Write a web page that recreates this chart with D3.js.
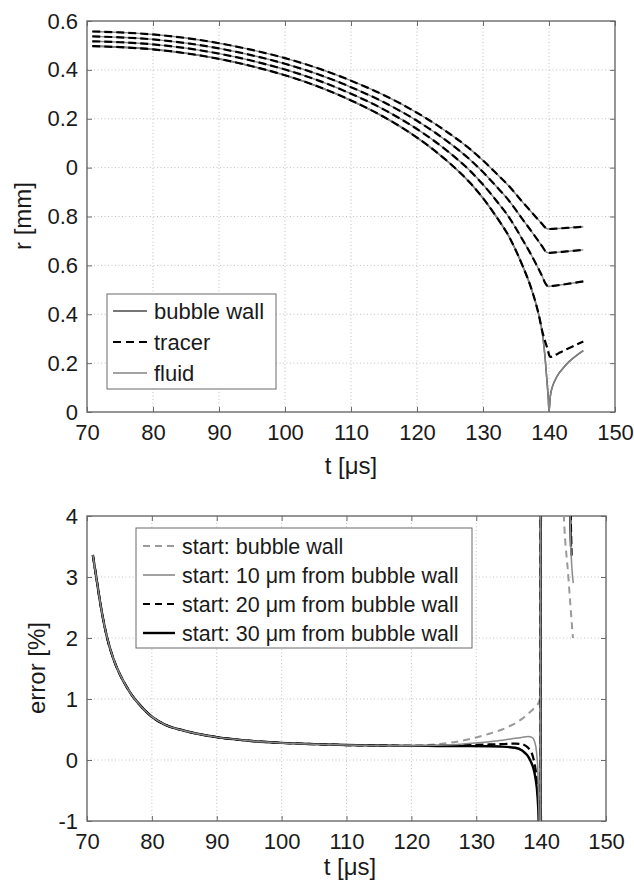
<!DOCTYPE html>
<html>
<head>
<meta charset="utf-8">
<script src="https://cdn.jsdelivr.net/npm/d3@7"></script>
<style>
  body { margin: 0; background: #fff; }
  svg { display: block; }
  text { font-family: "Liberation Sans", Arial, Helvetica, sans-serif; fill: #1a1a1a; }
</style>
</head>
<body>
<script>
// ---------------- DATA ----------------
const xTicks = [70, 80, 90, 100, 110, 120, 130, 140, 150];
const xTickLabels = ["70", "80", "90", "100", "110", "120", "130", "140", "150"];

const rTicks = [0, 0.2, 0.4, 0.6, 0.8, 1.0, 1.2, 1.4, 1.6];
const rTickLabels = ["0", "0.2", "0.4", "0.6", "0.8", "0", "0.2", "0.4", "0.6"];

const errTicks = [-1, 0, 1, 2, 3, 4];
const errTickLabels = ["-1", "0", "1", "2", "3", "4"];

// top panel: radius vs time
const tTop = [70.8, 75, 80, 85, 90, 95, 100, 105, 110, 115, 120, 125, 128, 130, 132, 134, 135, 136, 137, 138,
  138.5, 139, 139.4, 139.7, 139.9, 140, 140.2, 140.6, 141, 141.5, 142, 143, 144, 145.2];
const bubbleWall = [1.497, 1.493, 1.484, 1.468, 1.445, 1.415, 1.378, 1.332, 1.275, 1.207, 1.123, 1.017, 0.939, 0.875,
  0.800, 0.715, 0.660, 0.598, 0.530, 0.445, 0.392, 0.322, 0.225, 0.125, 0.050, 0, 0.065, 0.110, 0.135, 0.158, 0.175,
  0.205, 0.228, 0.251];
const tracerAtWall = [1.497, 1.493, 1.484, 1.468, 1.445, 1.415, 1.378, 1.332, 1.275, 1.207, 1.123, 1.017, 0.939, 0.875,
  0.800, 0.715, 0.660, 0.598, 0.530, 0.445, 0.392, 0.328, 0.290, 0.265, 0.245, 0.235, 0.225, 0.229, 0.234, 0.241,
  0.248, 0.261, 0.274, 0.289];
const fluid10 = [1.517, 1.5131, 1.5044, 1.4888, 1.4664, 1.4373, 1.4015, 1.3571, 1.3024, 1.2374, 1.1579, 1.0592, 0.9879,
  0.9307, 0.8655, 0.7947, 0.7511, 0.7048, 0.6582, 0.6077, 0.5814, 0.5536, 0.5286, 0.5171, 0.5148, 0.5146, 0.5150,
  0.5161, 0.5175, 0.5193, 0.5211, 0.5251, 0.5291, 0.5342];
const fluid20 = [1.537, 1.5332, 1.5247, 1.5095, 1.4878, 1.4596, 1.4249, 1.3820, 1.3293, 1.2671, 1.1917, 1.0992, 1.0336,
  0.9817, 0.9237, 0.8626, 0.8261, 0.7884, 0.7519, 0.7142, 0.6955, 0.6765, 0.6601, 0.6528, 0.6511, 0.6510, 0.6512,
  0.6523, 0.6532, 0.6543, 0.6554, 0.6579, 0.6604, 0.6636];
const fluid30 = [1.557, 1.5533, 1.5450, 1.5303, 1.5091, 1.4817, 1.4481, 1.4066, 1.3558, 1.2963, 1.2245, 1.1375, 1.0766,
  1.0291, 0.9767, 0.9226, 0.8910, 0.8589, 0.8285, 0.7979, 0.7830, 0.7681, 0.7555, 0.7499, 0.7489, 0.7488, 0.7489,
  0.7496, 0.7503, 0.7511, 0.7520, 0.7539, 0.7558, 0.7583];
const tracer10 = fluid10;   // tracers coincide with the fluid paths
const tracer20 = fluid20;
const tracer30 = fluid30;

const topLegendNames = ["bubble wall", "tracer", "fluid"];

// bottom panel: error vs time (shared start, separate tails)
const errHeadT = [70.9, 71.5, 72, 73, 74, 75, 76, 77, 78, 80, 82, 85, 88, 90, 95, 100, 105, 110, 115, 120];
const errHead = [3.36, 2.95, 2.6, 2.05, 1.68, 1.42, 1.22, 1.05, 0.92, 0.71, 0.58, 0.48, 0.41, 0.375, 0.315, 0.28,
  0.26, 0.245, 0.237, 0.232];

const errWallT = [124, 127, 130, 132, 134, 135, 136, 137, 138, 139, 139.7, 139.9, 140, 143.4, 144.2, 144.9];
const errWall = [0.26, 0.30, 0.37, 0.43, 0.50, 0.55, 0.60, 0.67, 0.76, 0.86, 0.96, 1.1, 60, 4.3, 3.0, 2.0];

const err10T = [124, 128, 130, 132, 134, 136, 137, 138, 138.6, 139, 139.3, 139.5, 139.65, 139.75, 139.9, 140,
  144.4, 144.55, 144.95];
const err10 = [0.24, 0.262, 0.28, 0.30, 0.325, 0.355, 0.37, 0.385, 0.37, 0.30, 0.12, -0.2, -0.8, -1.5, -30, 60,
  4.3, 3.6, 2.9];

const err20T = [124, 128, 132, 134, 136, 137, 138, 138.8, 139.2, 139.5, 139.65, 139.75, 139.9, 140, 144.5, 144.7];
const err20 = [0.235, 0.245, 0.255, 0.262, 0.27, 0.26, 0.2, 0.03, -0.2, -0.55, -0.9, -1.5, -30, 60, 4.3, 3.35];

const err30T = [124, 128, 132, 134, 136, 137, 138.3, 139.1, 139.45, 139.6, 139.75, 139.9, 140, 144.4, 144.6];
const err30 = [0.23, 0.228, 0.225, 0.22, 0.2, 0.16, 0.0, -0.28, -0.6, -0.9, -1.5, -30, 60, 4.3, 3.5];

const bottomLegendNames = ["start: bubble wall", "start: 10 \u03bcm from bubble wall",
  "start: 20 \u03bcm from bubble wall", "start: 30 \u03bcm from bubble wall"];

// ---------------- DRAWING ----------------
const svg = d3.select("body").append("svg").attr("width", 634).attr("height", 885);
const AXC = "#6a6a6a";

function frame(id, x, y, yTicks, yLabels, xLabelBaseline, xLabelX, yLabel, yLabelPos) {
  const [x0, x1] = x.range();
  const [yb, yt] = y.range();
  const g = svg.append("g");
  // grid
  g.selectAll(null).data(xTicks.slice(1, -1)).join("line")
    .attr("x1", d => x(d)).attr("x2", d => x(d)).attr("y1", yt).attr("y2", yb)
    .attr("stroke", "#c2c2c2").attr("stroke-width", 1).attr("stroke-dasharray", "1,2.5");
  g.selectAll(null).data(yTicks.slice(1, -1)).join("line")
    .attr("y1", d => y(d)).attr("y2", d => y(d)).attr("x1", x0).attr("x2", x1)
    .attr("stroke", "#c2c2c2").attr("stroke-width", 1).attr("stroke-dasharray", "1,2.5");
  // axes
  const style = sel => {
    sel.select(".domain").remove();
    sel.selectAll(".tick line").attr("stroke", AXC).attr("stroke-width", 1);
    sel.selectAll(".tick text").attr("font-size", 22).attr("fill", "#1a1a1a")
      .attr("font-family", '"Liberation Sans", Arial, sans-serif');
  };
  g.append("g").attr("transform", `translate(0,${yb})`)
    .call(d3.axisBottom(x).tickValues(xTicks).tickFormat((d, i) => xTickLabels[i])
      .tickSizeInner(-5).tickSizeOuter(0).tickPadding(12)).call(style);
  g.append("g").attr("transform", `translate(0,${yt})`)
    .call(d3.axisTop(x).tickValues(xTicks).tickFormat("").tickSizeInner(-5).tickSizeOuter(0)).call(style);
  g.append("g").attr("transform", `translate(${x0},0)`)
    .call(d3.axisLeft(y).tickValues(yTicks).tickFormat((d, i) => yLabels[i])
      .tickSizeInner(-5).tickSizeOuter(0).tickPadding(9)).call(style);
  g.append("g").attr("transform", `translate(${x1},0)`)
    .call(d3.axisRight(y).tickValues(yTicks).tickFormat("").tickSizeInner(-5).tickSizeOuter(0)).call(style);
  // box
  g.append("rect").attr("x", x0).attr("y", yt).attr("width", x1 - x0).attr("height", yb - yt)
    .attr("fill", "none").attr("stroke", AXC).attr("stroke-width", 1.4);
  // labels
  svg.append("text").attr("x", xLabelX).attr("y", xLabelBaseline).attr("text-anchor", "middle")
    .attr("font-size", 24).text("t [\u03bcs]");
  svg.append("text").attr("transform", `translate(${yLabelPos[0]},${yLabelPos[1]}) rotate(-90)`)
    .attr("text-anchor", "middle").attr("font-size", 24).text(yLabel);
  // clip
  svg.append("clipPath").attr("id", id).append("rect")
    .attr("x", x0).attr("y", yt).attr("width", x1 - x0).attr("height", yb - yt);
}

// ---- top panel ----
const xTop = d3.scaleLinear().domain([70, 150]).range([87, 615]);
const yTop = d3.scaleLinear().domain([0, 1.6]).range([412, 21]);
frame("clipTop", xTop, yTop, rTicks, rTickLabels, 474, 351, "r [mm]", [31, 216]);

const lineTop = d3.line().x(d => xTop(d[0])).y(d => yTop(d[1])).curve(d3.curveMonotoneX);
const gTop = svg.append("g").attr("clip-path", "url(#clipTop)");
const topSeries = [
  { v: bubbleWall, c: "#4a4a4a", w: 1.6, dash: null },
  { v: bubbleWall, c: "#858585", w: 1.4, dash: null },
  { v: fluid10, c: "#858585", w: 1.4, dash: null },
  { v: fluid20, c: "#858585", w: 1.4, dash: null },
  { v: fluid30, c: "#858585", w: 1.4, dash: null },
  { v: tracerAtWall, c: "#000", w: 2.2, dash: "8,4" },
  { v: tracer10, c: "#000", w: 2.2, dash: "8,4" },
  { v: tracer20, c: "#000", w: 2.2, dash: "8,4" },
  { v: tracer30, c: "#000", w: 2.2, dash: "8,4" }
];
topSeries.forEach(s => {
  gTop.append("path").attr("d", lineTop(d3.zip(tTop, s.v)))
    .attr("fill", "none").attr("stroke", s.c).attr("stroke-width", s.w)
    .attr("stroke-dasharray", s.dash).attr("stroke-linejoin", "round");
});

// top legend
const lgTop = svg.append("g");
lgTop.append("rect").attr("x", 107).attr("y", 294).attr("width", 169).attr("height", 95)
  .attr("fill", "#fff").attr("stroke", AXC).attr("stroke-width", 1);
const topLegendStyle = [
  { c: "#4a4a4a", w: 1.6, dash: null },
  { c: "#000", w: 2.2, dash: "8,5" },
  { c: "#858585", w: 1.6, dash: null }
];
topLegendNames.forEach((name, i) => {
  const cy = 311 + i * 31;
  lgTop.append("line").attr("x1", 113).attr("x2", 147).attr("y1", cy).attr("y2", cy)
    .attr("stroke", topLegendStyle[i].c).attr("stroke-width", topLegendStyle[i].w)
    .attr("stroke-dasharray", topLegendStyle[i].dash);
  lgTop.append("text").attr("x", 154).attr("y", cy + 8).attr("font-size", 22).text(name);
});

// ---- bottom panel ----
const xBot = d3.scaleLinear().domain([70, 150]).range([87, 606]);
const yBot = d3.scaleLinear().domain([-1, 4]).range([821, 516]);
frame("clipBot", xBot, yBot, errTicks, errTickLabels, 875, 350, "error [%]", [45, 668]);

const lineBot = d3.line().x(d => xBot(d[0])).y(d => yBot(d[1])).curve(d3.curveMonotoneX);
const gBot = svg.append("g").attr("clip-path", "url(#clipBot)");
const botSeries = [
  { t: errWallT, v: errWall, c: "#9a9a9a", w: 2, dash: "7,5" },
  { t: err30T, v: err30, c: "#000", w: 2.4, dash: null },
  { t: err20T, v: err20, c: "#000", w: 2.2, dash: "8,4" },
  { t: err10T, v: err10, c: "#8a8a8a", w: 1.5, dash: null }
];
botSeries.forEach(s => {
  const pts = d3.zip(errHeadT, errHead).concat(d3.zip(s.t, s.v));
  gBot.append("path").attr("d", lineBot(pts))
    .attr("fill", "none").attr("stroke", s.c).attr("stroke-width", s.w)
    .attr("stroke-dasharray", s.dash).attr("stroke-linejoin", "round");
});

// bottom legend
const lgBot = svg.append("g");
lgBot.append("rect").attr("x", 136).attr("y", 528).attr("width", 336).attr("height", 120)
  .attr("fill", "#fff").attr("stroke", AXC).attr("stroke-width", 1);
const botLegendStyle = [
  { c: "#9a9a9a", w: 2, dash: "7,5" },
  { c: "#8a8a8a", w: 1.6, dash: null },
  { c: "#000", w: 2.2, dash: "7,5" },
  { c: "#000", w: 2.4, dash: null }
];
bottomLegendNames.forEach((name, i) => {
  const cy = 546 + i * 29;
  lgBot.append("line").attr("x1", 143).attr("x2", 175).attr("y1", cy).attr("y2", cy)
    .attr("stroke", botLegendStyle[i].c).attr("stroke-width", botLegendStyle[i].w)
    .attr("stroke-dasharray", botLegendStyle[i].dash);
  lgBot.append("text").attr("x", 182).attr("y", cy + 8).attr("font-size", 21.5).text(name);
});
</script>
</body>
</html>
